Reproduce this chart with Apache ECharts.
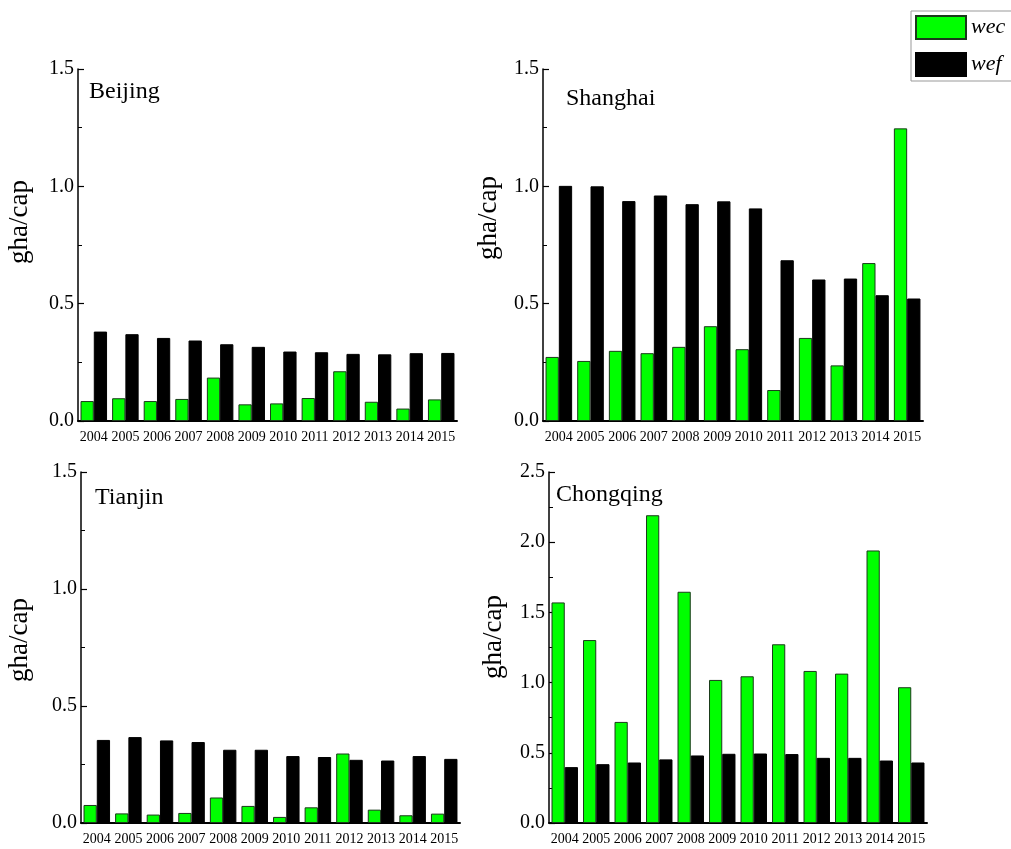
<!DOCTYPE html>
<html>
<head>
<meta charset="utf-8">
<script src="https://cdn.jsdelivr.net/npm/echarts@6/dist/echarts.min.js"></script>
<style>
html,body{margin:0;padding:0;background:#fff;}
#chart{width:1011px;height:849px;}
</style>
</head>
<body>
<div id="chart"></div>
<script>
var years = ['2004','2005','2006','2007','2008','2009','2010','2011','2012','2013','2014','2015'];
var cities = ['Beijing','Shanghai','Tianjin','Chongqing'];
var beijingWec = [0.085,0.097,0.085,0.094,0.185,0.071,0.075,0.098,0.212,0.082,0.053,0.092];
var beijingWef = [0.381,0.370,0.354,0.343,0.327,0.316,0.296,0.293,0.286,0.284,0.289,0.290];
var shanghaiWec = [0.273,0.256,0.299,0.289,0.316,0.404,0.306,0.132,0.354,0.237,0.673,1.247];
var shanghaiWef = [1.002,1.000,0.937,0.961,0.924,0.936,0.906,0.685,0.603,0.607,0.536,0.522];
var tianjinWec = [0.077,0.041,0.036,0.043,0.109,0.073,0.026,0.067,0.297,0.057,0.033,0.040];
var tianjinWef = [0.355,0.367,0.353,0.346,0.313,0.313,0.286,0.282,0.270,0.267,0.286,0.274];
var chongqingWec = [1.571,1.303,0.720,2.192,1.647,1.019,1.045,1.273,1.083,1.064,1.941,0.967];
var chongqingWef = [0.398,0.419,0.431,0.453,0.481,0.493,0.495,0.491,0.464,0.464,0.445,0.431];
var yMax = [1.5, 1.5, 1.5, 2.5];
var yTitle = 'gha/cap';

var wecData = [beijingWec, shanghaiWec, tianjinWec, chongqingWec];
var wefData = [beijingWef, shanghaiWef, tianjinWef, chongqingWef];

var serif = "'Liberation Serif','Times New Roman',serif";
var grids = [
  {left: 78, top: 69, width: 379, height: 352},
  {left: 543, top: 69, width: 380, height: 352},
  {left: 81, top: 472, width: 379, height: 351},
  {left: 549, top: 472, width: 378, height: 351}
];
var titlePos = [[89, 80], [566, 87], [95, 486], [556, 483]];
var yTitlePos = [[20, 222], [489, 218], [20, 640], [494, 637]];

var option = {
  animation: false,
  backgroundColor: '#fff',
  title: cities.map(function (c, i) {
    return {text: c, left: titlePos[i][0], top: titlePos[i][1], padding: 0,
      textStyle: {fontFamily: serif, fontSize: 24, fontWeight: 'normal', color: '#000'}};
  }),
  legend: {
    orient: 'vertical', left: 911, top: 11,
    data: ['wec', 'wef'],
    icon: 'rect', itemWidth: 50, itemHeight: 23, itemGap: 12,
    borderColor: '#999', borderWidth: 1, padding: [4, 12, 4, 4],
    textStyle: {fontFamily: serif, fontStyle: 'italic', fontSize: 22, color: '#000'}
  },
  grid: grids,
  xAxis: grids.map(function (g, i) {
    return {
      type: 'category', gridIndex: i, data: years,
      axisLine: {lineStyle: {color: '#000', width: 2}},
      axisTick: {show: false},
      axisLabel: {interval: 0, margin: 9, fontFamily: serif, fontSize: 14, color: '#000'},
      splitLine: {show: false}
    };
  }),
  yAxis: grids.map(function (g, i) {
    return {
      type: 'value', gridIndex: i, min: 0, max: yMax[i], interval: 0.5,
      axisLine: {show: true, lineStyle: {color: '#000', width: 1.5}},
      axisTick: {show: true, inside: true, length: 6, lineStyle: {color: '#000', width: 1.2}},
      minorTick: {show: true, splitNumber: 2, length: 4, lineStyle: {color: '#000', width: 1}},
      axisLabel: {margin: 4, fontFamily: serif, fontSize: 20, color: '#000',
        formatter: function (v) { return v.toFixed(1); }},
      splitLine: {show: false}
    };
  }),
  graphic: yTitlePos.map(function (p) {
    return {type: 'text', x: p[0], y: p[1], rotation: Math.PI / 2,
      style: {text: yTitle, fontFamily: serif, fontSize: 27, fill: '#000',
        align: 'center', verticalAlign: 'middle'}};
  }),
  series: []
};

for (var i = 0; i < 4; i++) {
  option.series.push({
    name: 'wec', type: 'bar', xAxisIndex: i, yAxisIndex: i, data: wecData[i],
    barGap: '0%', barCategoryGap: '16%',
    itemStyle: {color: '#00ff00', borderColor: '#1a3a1a', borderWidth: 1}
  });
  option.series.push({
    name: 'wef', type: 'bar', xAxisIndex: i, yAxisIndex: i, data: wefData[i],
    barGap: '0%', barCategoryGap: '16%',
    itemStyle: {color: '#000000', borderColor: '#000', borderWidth: 1}
  });
}

var chart = echarts.init(document.getElementById('chart'), null, {renderer: 'canvas'});
chart.setOption(option);
</script>
</body>
</html>
